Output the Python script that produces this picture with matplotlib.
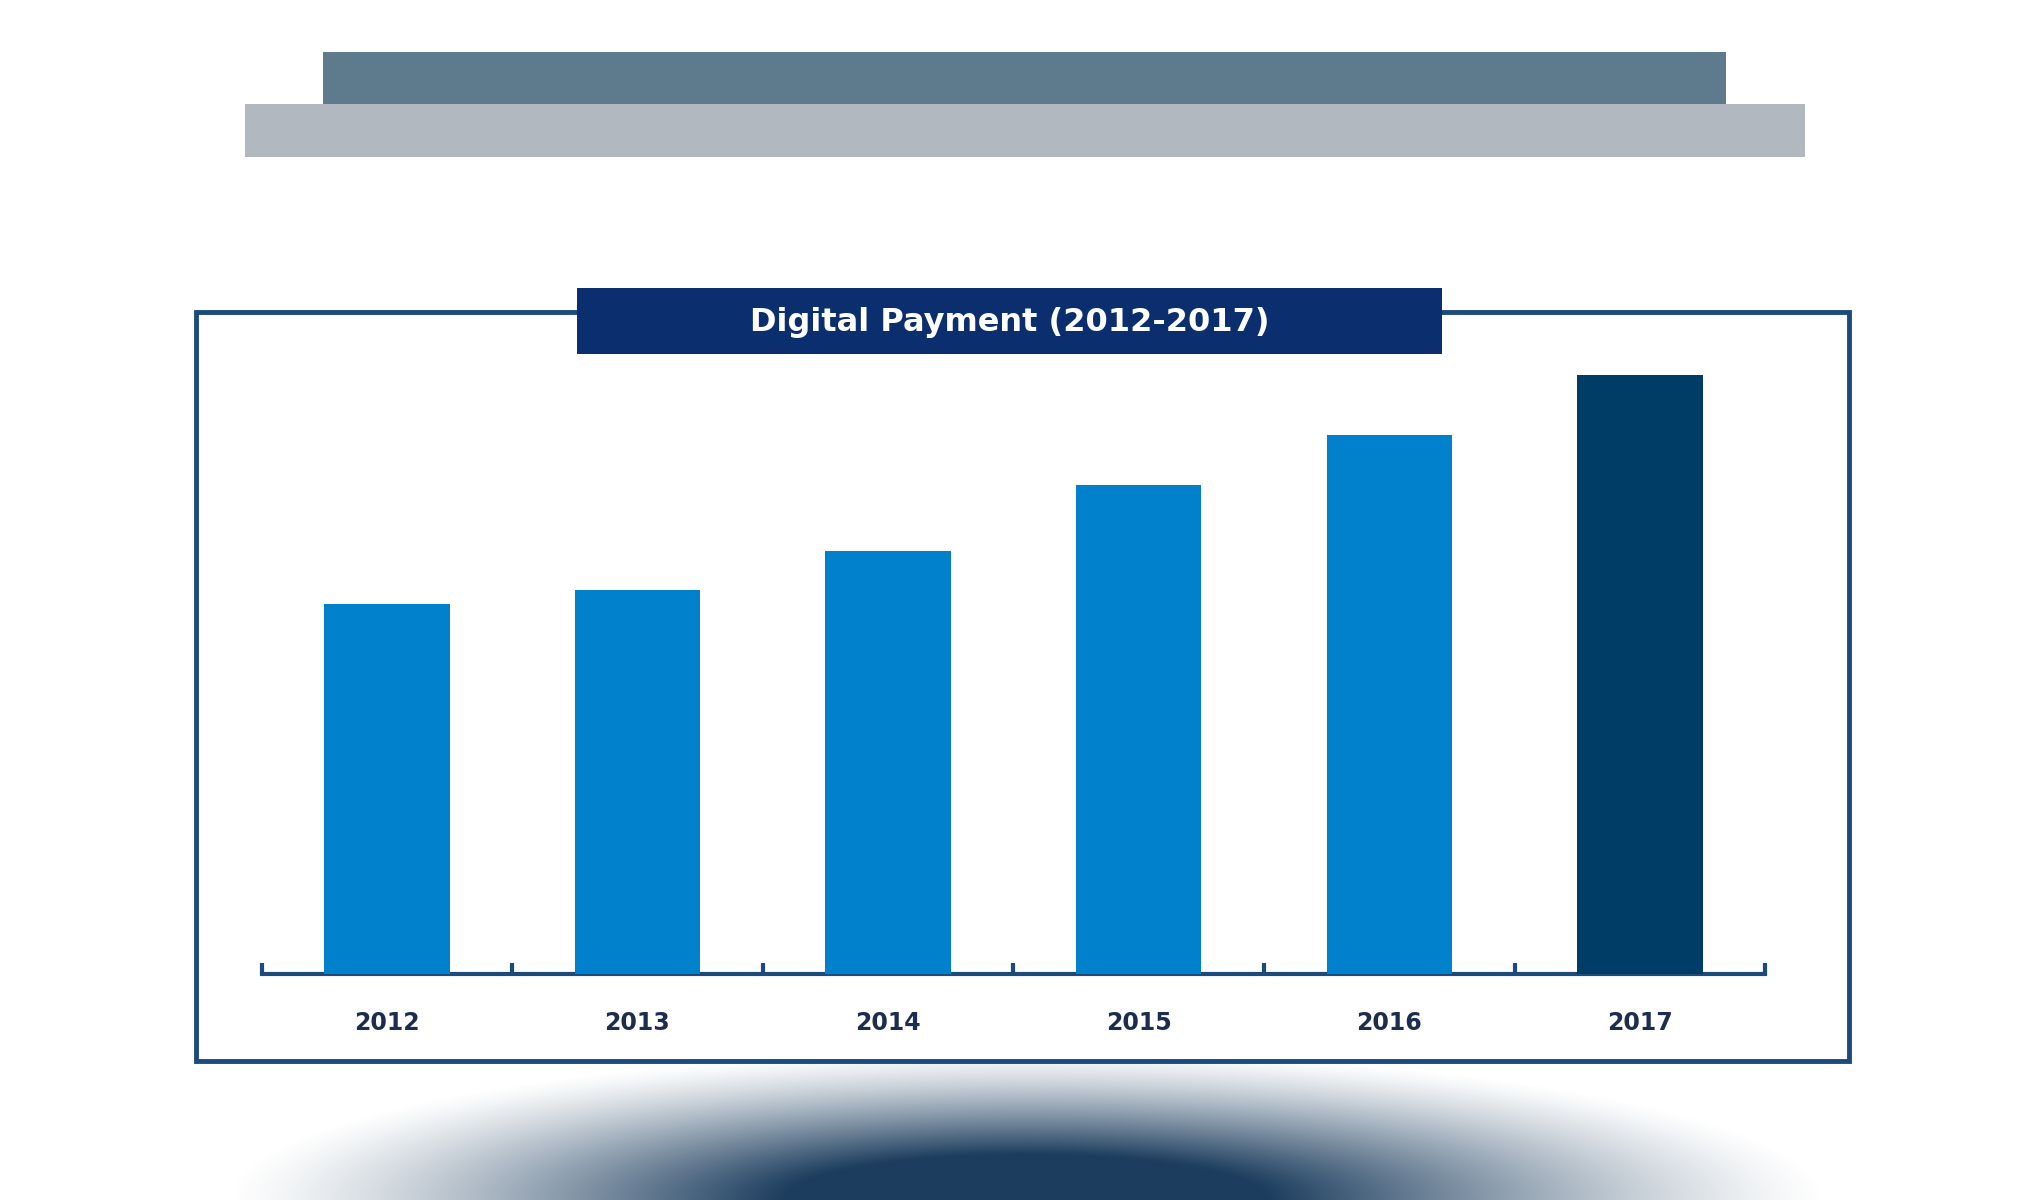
import numpy as np
import matplotlib
matplotlib.use("Agg")
from matplotlib import pyplot as plt
from matplotlib.patches import Rectangle
from matplotlib.colors import to_rgb

years = ["2012", "2013", "2014", "2015", "2016", "2017"]
values = [284, 295, 325, 375, 414, 460]
bar_colors = ["#0180cc"] * 5 + ["#003d66"]
title = "Digital Payment (2012-2017)"

W, H = 1560, 922
fig = plt.figure(figsize=(20.4, 12), dpi=100)

# background axes in reference pixel units
bg = fig.add_axes([0, 0, 1, 1])
bg.set_xlim(0, W)
bg.set_ylim(H, 0)
bg.axis("off")

# header bars
bg.add_patch(Rectangle((187, 80), 1193, 41, color="#b1b8bf", lw=0))
bg.add_patch(Rectangle((247, 40), 1073, 40, color="#5e7b8d", lw=0))

# bottom shadow glow
xs = np.linspace(-1, 1, 600)
ys = np.linspace(0, 1, 120)
X, Y = np.meshgrid(xs, ys)
r = np.sqrt(X**2 + ((1 - Y) * 1.0) ** 2 / 0.9)
a = np.clip(1 - r, 0, 1) ** 1.3 * 1.6
a = np.clip(a, 0, 1)
img = np.zeros((120, 600, 4))
img[..., :3] = to_rgb("#1c3d5e")
img[..., 3] = a
bg.imshow(img, extent=(170, 1400, 922, 800), aspect="auto", interpolation="bilinear", zorder=1)

# frame
bg.add_patch(Rectangle((150, 240), 1264, 575, fill=False, ec="#1b4a7c", lw=3.5, zorder=3))
bg.add_patch(Rectangle((150, 240), 1264, 575, fc="white", ec="none", zorder=2))
bg.add_patch(Rectangle((441, 221), 662, 51, color="#0b2e6f", lw=0, zorder=4))
bg.text(772, 248, title, color="white", fontsize=23, fontweight="bold",
        ha="center", va="center", zorder=5)

# bar chart
ax = fig.add_axes([200 / W, 1 - 748 / H, 1150 / W, 508 / H])
ax.patch.set_alpha(0)
x = np.arange(len(years))
ax.bar(x, values, width=0.5, color=bar_colors, zorder=3)
ax.set_xlim(-0.5, len(years) - 0.5)
ax.set_ylim(0, 508)
for s in ["top", "left", "right"]:
    ax.spines[s].set_visible(False)
ax.spines["bottom"].set_color("#1b4a7c")
ax.spines["bottom"].set_linewidth(3)
ax.set_yticks([])
ax.set_xticks(np.arange(-0.5, len(years)), minor=False)
ax.set_xticklabels([])
ax.tick_params(axis="x", direction="in", length=8, width=3, color="#1b4a7c")
for xi, yr in zip(x, years):
    ax.text(xi, -38, yr, ha="center", va="center", fontsize=17, fontweight="bold",
            color="#1c2d4f")

fig.savefig("out.png", dpi=100, facecolor="white")
